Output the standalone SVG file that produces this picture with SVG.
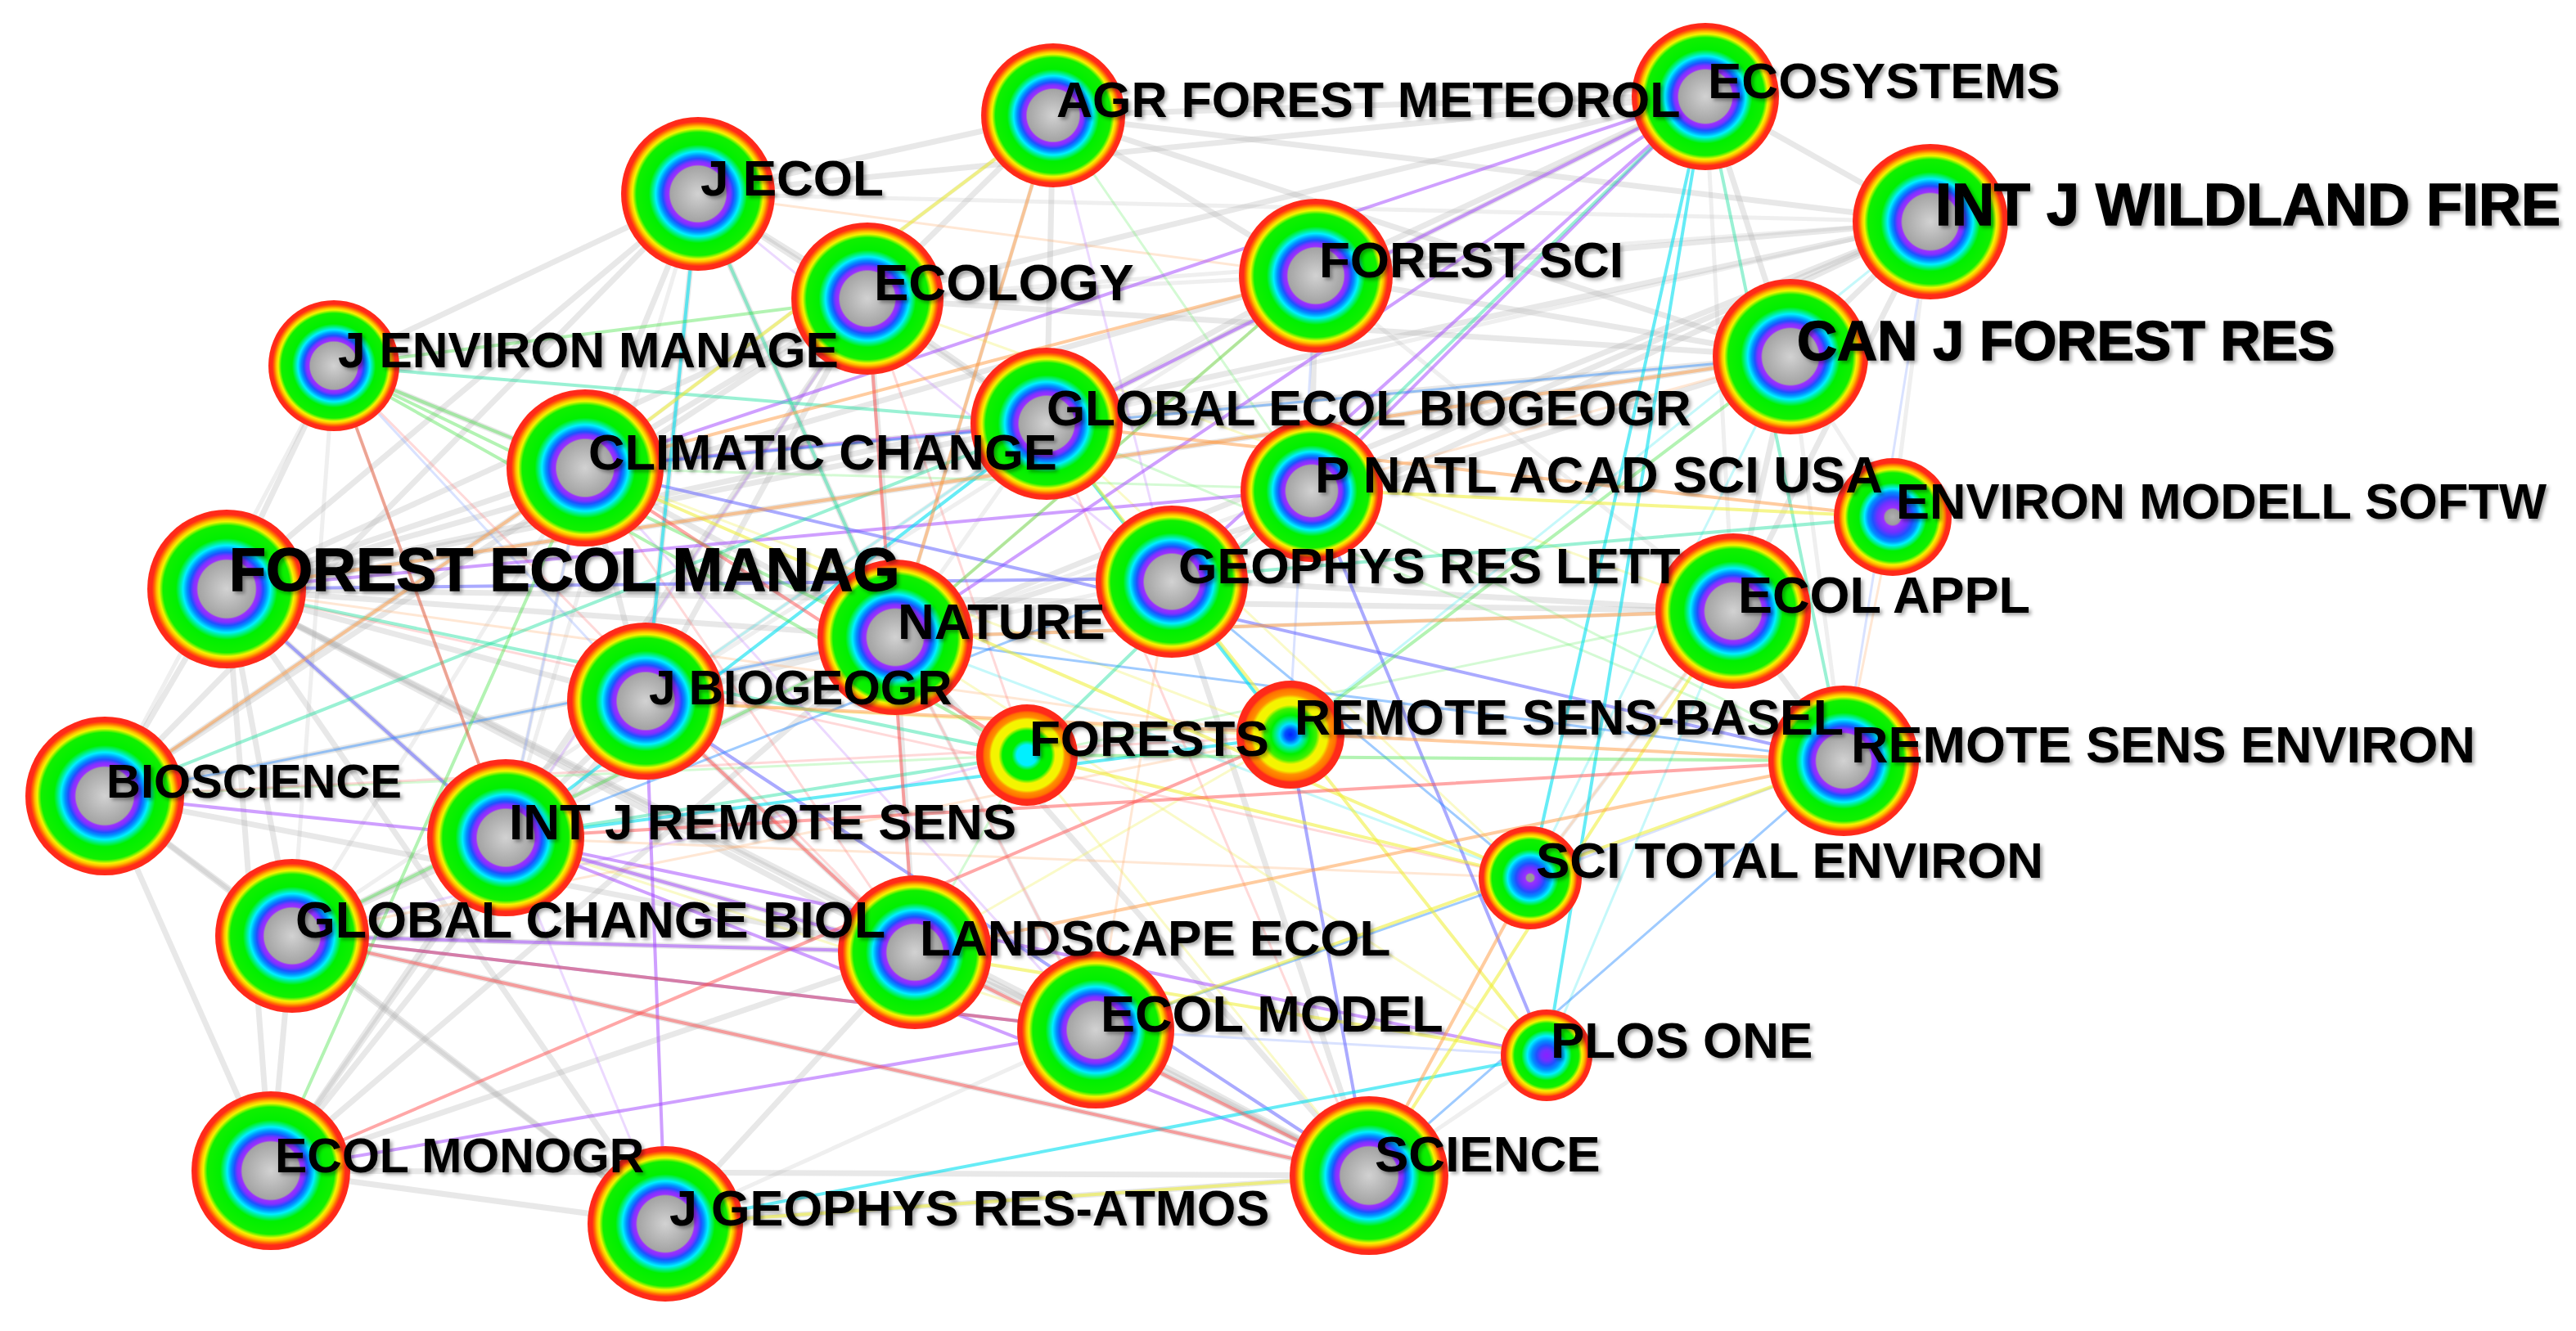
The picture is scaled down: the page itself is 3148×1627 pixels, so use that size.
<svg xmlns="http://www.w3.org/2000/svg" width="3148" height="1627" viewBox="0 0 3148 1627">
<style>
.lbl{font-family:"Liberation Sans",Arial,sans-serif;font-weight:700;font-size:62px;fill:#000;filter:url(#sh)}
.big{font-size:72px;stroke:#000;stroke-width:1.5}
#edges line{fill:none;stroke-linecap:round}
.g{stroke:#a8a8a8;stroke-opacity:.26;stroke-width:7}
.g2{stroke:#b0b0b0;stroke-opacity:.2;stroke-width:5}
.p{stroke:#a040ff;stroke-opacity:.5;stroke-width:4}
.v{stroke:#6464ff;stroke-opacity:.55;stroke-width:4}
.b{stroke:#2a8cff;stroke-opacity:.45;stroke-width:3}
.c{stroke:#00e0f0;stroke-opacity:.6;stroke-width:4}
.t{stroke:#20e0a0;stroke-opacity:.45;stroke-width:4}
.gr{stroke:#40e040;stroke-opacity:.4;stroke-width:4}
.y{stroke:#eeee30;stroke-opacity:.55;stroke-width:4}
.o{stroke:#ff9a40;stroke-opacity:.5;stroke-width:4}
.r{stroke:#ff5050;stroke-opacity:.5;stroke-width:4}
.fy{stroke:#f0f060;stroke-opacity:.35;stroke-width:3}
.fo{stroke:#ffb070;stroke-opacity:.3;stroke-width:3}
.fg{stroke:#70f070;stroke-opacity:.3;stroke-width:3}
.fc{stroke:#40e8f0;stroke-opacity:.3;stroke-width:3}
.fp{stroke:#c080ff;stroke-opacity:.3;stroke-width:3}
.fr{stroke:#ff8080;stroke-opacity:.3;stroke-width:3}
.fb{stroke:#80a0ff;stroke-opacity:.3;stroke-width:3}
</style>
<defs>
<filter id="sh" x="-5%" y="-30%" width="112%" height="170%">
<feDropShadow dx="3" dy="3" stdDeviation="2" flood-color="#000" flood-opacity="0.35"/>
</filter>
<radialGradient id="gFull">
<stop offset="0" stop-color="#d2d2d2"/>
<stop offset="0.2" stop-color="#b8b8b8"/>
<stop offset="0.36" stop-color="#a4a4a4"/>
<stop offset="0.38" stop-color="#9a30ff"/>
<stop offset="0.42" stop-color="#8030ff"/>
<stop offset="0.46" stop-color="#2050ff"/>
<stop offset="0.50" stop-color="#0090ff"/>
<stop offset="0.55" stop-color="#00f0ff"/>
<stop offset="0.60" stop-color="#00f070"/>
<stop offset="0.64" stop-color="#00f000"/>
<stop offset="0.80" stop-color="#10f000"/>
<stop offset="0.85" stop-color="#f4f400"/>
<stop offset="0.88" stop-color="#ffc000"/>
<stop offset="0.91" stop-color="#ff7000"/>
<stop offset="0.94" stop-color="#ff2a1a"/>
<stop offset="1" stop-color="#ff2a1a"/>
</radialGradient>
<radialGradient id="gSm">
<stop offset="0" stop-color="#b0b0b0"/>
<stop offset="0.13" stop-color="#9c9c9c"/>
<stop offset="0.16" stop-color="#9a30ff"/>
<stop offset="0.26" stop-color="#7030ff"/>
<stop offset="0.34" stop-color="#2050ff"/>
<stop offset="0.42" stop-color="#0090ff"/>
<stop offset="0.48" stop-color="#00f0ff"/>
<stop offset="0.54" stop-color="#00f070"/>
<stop offset="0.58" stop-color="#00f000"/>
<stop offset="0.75" stop-color="#10f000"/>
<stop offset="0.81" stop-color="#f4f400"/>
<stop offset="0.85" stop-color="#ffc000"/>
<stop offset="0.89" stop-color="#ff7000"/>
<stop offset="0.92" stop-color="#ff2a1a"/>
<stop offset="1" stop-color="#ff2a1a"/>
</radialGradient>
<radialGradient id="gSci">
<stop offset="0" stop-color="#9a9a9a"/>
<stop offset="0.07" stop-color="#9a9a9a"/>
<stop offset="0.1" stop-color="#9a30ff"/>
<stop offset="0.2" stop-color="#7030ff"/>
<stop offset="0.28" stop-color="#2050ff"/>
<stop offset="0.36" stop-color="#0090ff"/>
<stop offset="0.44" stop-color="#00f0ff"/>
<stop offset="0.5" stop-color="#00f070"/>
<stop offset="0.55" stop-color="#00f000"/>
<stop offset="0.74" stop-color="#10f000"/>
<stop offset="0.8" stop-color="#f4f400"/>
<stop offset="0.84" stop-color="#ffc000"/>
<stop offset="0.88" stop-color="#ff7000"/>
<stop offset="0.91" stop-color="#ff2a1a"/>
<stop offset="1" stop-color="#ff2a1a"/>
</radialGradient>
<radialGradient id="gPlos">
<stop offset="0" stop-color="#8a20ff"/>
<stop offset="0.12" stop-color="#7030ff"/>
<stop offset="0.22" stop-color="#2050ff"/>
<stop offset="0.32" stop-color="#0090ff"/>
<stop offset="0.42" stop-color="#00f0ff"/>
<stop offset="0.5" stop-color="#00f070"/>
<stop offset="0.55" stop-color="#00f000"/>
<stop offset="0.7" stop-color="#10f000"/>
<stop offset="0.77" stop-color="#f4f400"/>
<stop offset="0.82" stop-color="#ffc000"/>
<stop offset="0.87" stop-color="#ff7000"/>
<stop offset="0.9" stop-color="#ff2a1a"/>
<stop offset="1" stop-color="#ff2a1a"/>
</radialGradient>
<radialGradient id="gFor">
<stop offset="0" stop-color="#00f0ff"/>
<stop offset="0.2" stop-color="#00f0ff"/>
<stop offset="0.3" stop-color="#00f000"/>
<stop offset="0.48" stop-color="#00f000"/>
<stop offset="0.56" stop-color="#f4f400"/>
<stop offset="0.7" stop-color="#f4f400"/>
<stop offset="0.75" stop-color="#ff9000"/>
<stop offset="0.84" stop-color="#ff7000"/>
<stop offset="0.88" stop-color="#ff2a1a"/>
<stop offset="1" stop-color="#ff2a1a"/>
</radialGradient>
<radialGradient id="gRsb">
<stop offset="0" stop-color="#0020ff"/>
<stop offset="0.1" stop-color="#0050ff"/>
<stop offset="0.2" stop-color="#00e0ff"/>
<stop offset="0.3" stop-color="#00f060"/>
<stop offset="0.36" stop-color="#00f000"/>
<stop offset="0.48" stop-color="#40f000"/>
<stop offset="0.55" stop-color="#f4f400"/>
<stop offset="0.68" stop-color="#f4f400"/>
<stop offset="0.74" stop-color="#ff9000"/>
<stop offset="0.84" stop-color="#ff7000"/>
<stop offset="0.88" stop-color="#ff2a1a"/>
<stop offset="1" stop-color="#ff2a1a"/>
</radialGradient>
</defs>
<rect width="3148" height="1627" fill="#fff"/>
<g id="edges">
<line class="g2" x1="853" y1="237" x2="618" y2="1024"/>
<line class="g2" x1="1060" y1="365" x2="618" y2="1024"/>
<line class="g2" x1="1287" y1="141" x2="715" y2="572"/>
<line class="g2" x1="1287" y1="141" x2="1094" y2="779"/>
<line class="g2" x1="1608" y1="337" x2="1060" y2="365"/>
<line class="g2" x1="1608" y1="337" x2="789" y2="857"/>
<line class="g2" x1="1279" y1="518" x2="1094" y2="779"/>
<line class="g2" x1="1279" y1="518" x2="789" y2="857"/>
<line class="g2" x1="1430" y1="707" x2="1094" y2="779"/>
<line class="g2" x1="1094" y1="779" x2="618" y2="1024"/>
<line class="g2" x1="789" y1="857" x2="357" y2="1144"/>
<line class="g2" x1="715" y1="572" x2="618" y2="1024"/>
<line class="g2" x1="715" y1="572" x2="357" y2="1144"/>
<line class="g2" x1="408" y1="447" x2="128" y2="973"/>
<line class="g2" x1="408" y1="447" x2="357" y2="1144"/>
<line class="g2" x1="1602" y1="598" x2="1430" y2="707"/>
<line class="g2" x1="1602" y1="598" x2="1094" y2="779"/>
<line class="g2" x1="2118" y1="747" x2="2084" y2="116"/>
<line class="g2" x1="2118" y1="747" x2="1608" y2="337"/>
<line class="g2" x1="2118" y1="747" x2="1094" y2="779"/>
<line class="g2" x1="2253" y1="930" x2="2188" y2="436"/>
<line class="g2" x1="2313" y1="632" x2="2188" y2="436"/>
<line class="g2" x1="2313" y1="632" x2="2359" y2="271"/>
<line class="g2" x1="1870" y1="1073" x2="2118" y2="747"/>
<line class="g2" x1="1339" y1="1259" x2="813" y2="1496"/>
<line class="g2" x1="1339" y1="1259" x2="1094" y2="779"/>
<line class="g2" x1="1673" y1="1437" x2="1890" y2="1290"/>
<line class="g2" x1="2359" y1="271" x2="1060" y2="365"/>
<line class="g2" x1="2359" y1="271" x2="1279" y2="518"/>
<line class="g2" x1="2359" y1="271" x2="853" y2="237"/>
<line class="g" x1="277" y1="720" x2="715" y2="572"/>
<line class="g" x1="277" y1="720" x2="853" y2="237"/>
<line class="g" x1="277" y1="720" x2="1060" y2="365"/>
<line class="g" x1="277" y1="720" x2="1279" y2="518"/>
<line class="g" x1="277" y1="720" x2="1094" y2="779"/>
<line class="g" x1="277" y1="720" x2="789" y2="857"/>
<line class="g" x1="277" y1="720" x2="618" y2="1024"/>
<line class="g" x1="277" y1="720" x2="357" y2="1144"/>
<line class="g" x1="277" y1="720" x2="331" y2="1431"/>
<line class="g" x1="277" y1="720" x2="128" y2="973"/>
<line class="g" x1="277" y1="720" x2="1118" y2="1164"/>
<line class="g" x1="277" y1="720" x2="1339" y2="1259"/>
<line class="g" x1="277" y1="720" x2="1673" y2="1437"/>
<line class="g" x1="277" y1="720" x2="813" y2="1496"/>
<line class="g" x1="277" y1="720" x2="2188" y2="436"/>
<line class="g" x1="277" y1="720" x2="1608" y2="337"/>
<line class="g" x1="277" y1="720" x2="2359" y2="271"/>
<line class="g" x1="277" y1="720" x2="2118" y2="747"/>
<line class="g" x1="128" y1="973" x2="331" y2="1431"/>
<line class="g" x1="128" y1="973" x2="357" y2="1144"/>
<line class="g" x1="128" y1="973" x2="715" y2="572"/>
<line class="g" x1="128" y1="973" x2="853" y2="237"/>
<line class="g" x1="128" y1="973" x2="1060" y2="365"/>
<line class="g" x1="128" y1="973" x2="1094" y2="779"/>
<line class="g" x1="128" y1="973" x2="1118" y2="1164"/>
<line class="g" x1="128" y1="973" x2="813" y2="1496"/>
<line class="g" x1="331" y1="1431" x2="357" y2="1144"/>
<line class="g" x1="331" y1="1431" x2="813" y2="1496"/>
<line class="g" x1="331" y1="1431" x2="789" y2="857"/>
<line class="g" x1="331" y1="1431" x2="618" y2="1024"/>
<line class="g" x1="331" y1="1431" x2="1118" y2="1164"/>
<line class="g" x1="331" y1="1431" x2="1060" y2="365"/>
<line class="g" x1="331" y1="1431" x2="1094" y2="779"/>
<line class="g" x1="331" y1="1431" x2="1673" y2="1437"/>
<line class="g" x1="357" y1="1144" x2="813" y2="1496"/>
<line class="g" x1="357" y1="1144" x2="1118" y2="1164"/>
<line class="g" x1="357" y1="1144" x2="1094" y2="779"/>
<line class="g" x1="357" y1="1144" x2="1673" y2="1437"/>
<line class="g" x1="2188" y1="436" x2="2359" y2="271"/>
<line class="g" x1="2188" y1="436" x2="2084" y2="116"/>
<line class="g" x1="2188" y1="436" x2="1608" y2="337"/>
<line class="g" x1="2188" y1="436" x2="2118" y2="747"/>
<line class="g" x1="2188" y1="436" x2="1287" y2="141"/>
<line class="g" x1="2188" y1="436" x2="1279" y2="518"/>
<line class="g" x1="2188" y1="436" x2="1094" y2="779"/>
<line class="g" x1="2188" y1="436" x2="1060" y2="365"/>
<line class="g" x1="2359" y1="271" x2="2084" y2="116"/>
<line class="g" x1="2359" y1="271" x2="1608" y2="337"/>
<line class="g" x1="2359" y1="271" x2="1287" y2="141"/>
<line class="g" x1="2359" y1="271" x2="2118" y2="747"/>
<line class="g" x1="2359" y1="271" x2="1430" y2="707"/>
<line class="g" x1="2359" y1="271" x2="1602" y2="598"/>
<line class="g" x1="2359" y1="271" x2="1094" y2="779"/>
<line class="g" x1="2084" y1="116" x2="1287" y2="141"/>
<line class="g" x1="2084" y1="116" x2="1608" y2="337"/>
<line class="g" x1="2084" y1="116" x2="853" y2="237"/>
<line class="g" x1="2084" y1="116" x2="1060" y2="365"/>
<line class="g" x1="2084" y1="116" x2="1279" y2="518"/>
<line class="g" x1="1287" y1="141" x2="853" y2="237"/>
<line class="g" x1="1287" y1="141" x2="1060" y2="365"/>
<line class="g" x1="1287" y1="141" x2="1608" y2="337"/>
<line class="g" x1="1287" y1="141" x2="1279" y2="518"/>
<line class="g" x1="853" y1="237" x2="1060" y2="365"/>
<line class="g" x1="853" y1="237" x2="715" y2="572"/>
<line class="g" x1="853" y1="237" x2="789" y2="857"/>
<line class="g" x1="853" y1="237" x2="1279" y2="518"/>
<line class="g" x1="853" y1="237" x2="1094" y2="779"/>
<line class="g" x1="1060" y1="365" x2="1279" y2="518"/>
<line class="g" x1="1060" y1="365" x2="715" y2="572"/>
<line class="g" x1="1060" y1="365" x2="1094" y2="779"/>
<line class="g" x1="1060" y1="365" x2="789" y2="857"/>
<line class="g" x1="789" y1="857" x2="1094" y2="779"/>
<line class="g" x1="789" y1="857" x2="618" y2="1024"/>
<line class="g" x1="789" y1="857" x2="1118" y2="1164"/>
<line class="g" x1="789" y1="857" x2="715" y2="572"/>
<line class="g" x1="1118" y1="1164" x2="1339" y2="1259"/>
<line class="g" x1="1118" y1="1164" x2="1673" y2="1437"/>
<line class="g" x1="1118" y1="1164" x2="1094" y2="779"/>
<line class="g" x1="1118" y1="1164" x2="813" y2="1496"/>
<line class="g" x1="1673" y1="1437" x2="1339" y2="1259"/>
<line class="g" x1="1673" y1="1437" x2="1094" y2="779"/>
<line class="g" x1="1673" y1="1437" x2="1430" y2="707"/>
<line class="g" x1="1673" y1="1437" x2="813" y2="1496"/>
<line class="g" x1="408" y1="447" x2="715" y2="572"/>
<line class="g" x1="408" y1="447" x2="277" y2="720"/>
<line class="g" x1="408" y1="447" x2="853" y2="237"/>
<line class="g" x1="1608" y1="337" x2="1279" y2="518"/>
<line class="g" x1="1608" y1="337" x2="1602" y2="598"/>
<line class="g" x1="2118" y1="747" x2="2253" y2="930"/>
<line class="g" x1="2118" y1="747" x2="1430" y2="707"/>
<line class="g" x1="715" y1="572" x2="1094" y2="779"/>
<line class="g" x1="715" y1="572" x2="1279" y2="518"/>
<line class="g" x1="618" y1="1024" x2="1118" y2="1164"/>
<line class="g" x1="618" y1="1024" x2="357" y2="1144"/>
<line class="fy" x1="1255" y1="923" x2="1673" y2="1437"/>
<line class="fy" x1="1279" y1="518" x2="1870" y2="1073"/>
<line class="fy" x1="1094" y1="779" x2="1890" y2="1290"/>
<line class="fy" x1="789" y1="857" x2="1575" y2="900"/>
<line class="fy" x1="618" y1="1024" x2="1339" y2="1259"/>
<line class="fy" x1="1060" y1="365" x2="2118" y2="747"/>
<line class="fy" x1="715" y1="572" x2="1575" y2="900"/>
<line class="fy" x1="1118" y1="1164" x2="1575" y2="900"/>
<line class="fo" x1="277" y1="720" x2="1575" y2="900"/>
<line class="fo" x1="1430" y1="707" x2="1339" y2="1259"/>
<line class="fo" x1="1608" y1="337" x2="1094" y2="779"/>
<line class="fo" x1="2188" y1="436" x2="1602" y2="598"/>
<line class="fo" x1="2118" y1="747" x2="1870" y2="1073"/>
<line class="fo" x1="357" y1="1144" x2="1575" y2="900"/>
<line class="fo" x1="853" y1="237" x2="1608" y2="337"/>
<line class="fo" x1="2313" y1="632" x2="2253" y2="930"/>
<line class="fo" x1="618" y1="1024" x2="1870" y2="1073"/>
<line class="fg" x1="1279" y1="518" x2="2253" y2="930"/>
<line class="fg" x1="2118" y1="747" x2="1255" y2="923"/>
<line class="fg" x1="408" y1="447" x2="618" y2="1024"/>
<line class="fg" x1="128" y1="973" x2="1255" y2="923"/>
<line class="fg" x1="715" y1="572" x2="1602" y2="598"/>
<line class="fg" x1="1602" y1="598" x2="2253" y2="930"/>
<line class="fg" x1="1118" y1="1164" x2="1255" y2="923"/>
<line class="fg" x1="1287" y1="141" x2="1602" y2="598"/>
<line class="fc" x1="1430" y1="707" x2="1575" y2="900"/>
<line class="fc" x1="2359" y1="271" x2="1575" y2="900"/>
<line class="fc" x1="2118" y1="747" x2="1890" y2="1290"/>
<line class="fc" x1="2188" y1="436" x2="1870" y2="1073"/>
<line class="fc" x1="789" y1="857" x2="1279" y2="518"/>
<line class="fc" x1="1094" y1="779" x2="1870" y2="1073"/>
<line class="fp" x1="618" y1="1024" x2="1060" y2="365"/>
<line class="fp" x1="357" y1="1144" x2="1255" y2="923"/>
<line class="fp" x1="813" y1="1496" x2="618" y2="1024"/>
<line class="fp" x1="715" y1="572" x2="1339" y2="1259"/>
<line class="fp" x1="853" y1="237" x2="1430" y2="707"/>
<line class="fp" x1="1287" y1="141" x2="1430" y2="707"/>
<line class="fr" x1="277" y1="720" x2="1870" y2="1073"/>
<line class="fr" x1="408" y1="447" x2="1118" y2="1164"/>
<line class="fr" x1="128" y1="973" x2="1575" y2="900"/>
<line class="fr" x1="1094" y1="779" x2="1339" y2="1259"/>
<line class="fr" x1="1060" y1="365" x2="1255" y2="923"/>
<line class="fr" x1="715" y1="572" x2="1118" y2="1164"/>
<line class="fr" x1="1279" y1="518" x2="1673" y2="1437"/>
<line class="fb" x1="1608" y1="337" x2="1575" y2="900"/>
<line class="fb" x1="408" y1="447" x2="789" y2="857"/>
<line class="fb" x1="715" y1="572" x2="618" y2="1024"/>
<line class="fb" x1="1339" y1="1259" x2="1890" y2="1290"/>
<line class="fb" x1="2253" y1="930" x2="1870" y2="1073"/>
<line class="fb" x1="2359" y1="271" x2="2253" y2="930"/>
<line class="p" x1="2084" y1="116" x2="1279" y2="518"/>
<line class="p" x1="2084" y1="116" x2="715" y2="572"/>
<line class="p" x1="2084" y1="116" x2="1602" y2="598"/>
<line class="p" x1="2084" y1="116" x2="1430" y2="707"/>
<line class="p" x1="2084" y1="116" x2="1094" y2="779"/>
<line class="p" x1="618" y1="1024" x2="1118" y2="1164"/>
<line class="p" x1="618" y1="1024" x2="1673" y2="1437"/>
<line class="p" x1="128" y1="973" x2="618" y2="1024"/>
<line class="p" x1="357" y1="1144" x2="1118" y2="1164"/>
<line class="p" x1="277" y1="720" x2="1602" y2="598"/>
<line class="p" x1="715" y1="572" x2="1279" y2="518"/>
<line class="p" x1="1890" y1="1290" x2="618" y2="1024"/>
<line class="p" x1="813" y1="1496" x2="789" y2="857"/>
<line class="p" x1="331" y1="1431" x2="1339" y2="1259"/>
<line class="v" x1="1602" y1="598" x2="1890" y2="1290"/>
<line class="v" x1="277" y1="720" x2="618" y2="1024"/>
<line class="v" x1="789" y1="857" x2="1673" y2="1437"/>
<line class="v" x1="1575" y1="900" x2="1673" y2="1437"/>
<line class="v" x1="357" y1="1144" x2="1339" y2="1259"/>
<line class="v" x1="715" y1="572" x2="2253" y2="930"/>
<line class="v" x1="277" y1="720" x2="1430" y2="707"/>
<line class="b" x1="715" y1="572" x2="2188" y2="436"/>
<line class="b" x1="1094" y1="779" x2="2253" y2="930"/>
<line class="b" x1="1339" y1="1259" x2="1870" y2="1073"/>
<line class="b" x1="1430" y1="707" x2="1870" y2="1073"/>
<line class="b" x1="128" y1="973" x2="1094" y2="779"/>
<line class="b" x1="1673" y1="1437" x2="2253" y2="930"/>
<line class="b" x1="618" y1="1024" x2="1430" y2="707"/>
<line class="c" x1="853" y1="237" x2="789" y2="857"/>
<line class="c" x1="2084" y1="116" x2="1870" y2="1073"/>
<line class="c" x1="2084" y1="116" x2="1890" y2="1290"/>
<line class="c" x1="813" y1="1496" x2="1890" y2="1290"/>
<line class="c" x1="1279" y1="518" x2="1575" y2="900"/>
<line class="c" x1="618" y1="1024" x2="1575" y2="900"/>
<line class="c" x1="1279" y1="518" x2="618" y2="1024"/>
<line class="t" x1="408" y1="447" x2="1279" y2="518"/>
<line class="t" x1="853" y1="237" x2="1094" y2="779"/>
<line class="t" x1="618" y1="1024" x2="1255" y2="923"/>
<line class="t" x1="2313" y1="632" x2="1430" y2="707"/>
<line class="t" x1="1255" y1="923" x2="2084" y2="116"/>
<line class="t" x1="128" y1="973" x2="1279" y2="518"/>
<line class="t" x1="277" y1="720" x2="1255" y2="923"/>
<line class="t" x1="2084" y1="116" x2="2253" y2="930"/>
<line class="gr" x1="408" y1="447" x2="715" y2="572"/>
<line class="gr" x1="408" y1="447" x2="1094" y2="779"/>
<line class="gr" x1="408" y1="447" x2="1255" y2="923"/>
<line class="gr" x1="331" y1="1431" x2="715" y2="572"/>
<line class="gr" x1="357" y1="1144" x2="1094" y2="779"/>
<line class="gr" x1="2188" y1="436" x2="1575" y2="900"/>
<line class="gr" x1="1255" y1="923" x2="2253" y2="930"/>
<line class="gr" x1="408" y1="447" x2="1060" y2="365"/>
<line class="gr" x1="1094" y1="779" x2="1608" y2="337"/>
<line class="y" x1="813" y1="1496" x2="1673" y2="1437"/>
<line class="y" x1="1118" y1="1164" x2="1890" y2="1290"/>
<line class="y" x1="715" y1="572" x2="1870" y2="1073"/>
<line class="y" x1="1255" y1="923" x2="1870" y2="1073"/>
<line class="y" x1="1673" y1="1437" x2="2118" y2="747"/>
<line class="y" x1="1287" y1="141" x2="715" y2="572"/>
<line class="y" x1="1339" y1="1259" x2="2253" y2="930"/>
<line class="y" x1="1602" y1="598" x2="2313" y2="632"/>
<line class="y" x1="1279" y1="518" x2="1890" y2="1290"/>
<line class="o" x1="128" y1="973" x2="715" y2="572"/>
<line class="o" x1="277" y1="720" x2="2188" y2="436"/>
<line class="o" x1="1279" y1="518" x2="2313" y2="632"/>
<line class="o" x1="789" y1="857" x2="2253" y2="930"/>
<line class="o" x1="1094" y1="779" x2="2118" y2="747"/>
<line class="o" x1="1118" y1="1164" x2="2253" y2="930"/>
<line class="o" x1="1608" y1="337" x2="715" y2="572"/>
<line class="o" x1="1673" y1="1437" x2="1870" y2="1073"/>
<line class="o" x1="1287" y1="141" x2="1094" y2="779"/>
<line class="r" x1="357" y1="1144" x2="1339" y2="1259"/>
<line class="r" x1="357" y1="1144" x2="1673" y2="1437"/>
<line class="r" x1="789" y1="857" x2="1118" y2="1164"/>
<line class="r" x1="1118" y1="1164" x2="1673" y2="1437"/>
<line class="r" x1="1060" y1="365" x2="1118" y2="1164"/>
<line class="r" x1="715" y1="572" x2="1255" y2="923"/>
<line class="r" x1="331" y1="1431" x2="1575" y2="900"/>
<line class="r" x1="618" y1="1024" x2="2253" y2="930"/>
<line class="r" x1="408" y1="447" x2="618" y2="1024"/>
</g>
<g id="n-ecosystems"><circle cx="2084" cy="118" r="90" fill="url(#gFull)"/><text class="lbl" x="2087" y="120">ECOSYSTEMS</text></g>
<g id="n-agr-forest-meteorol"><circle cx="1287" cy="141" r="88" fill="url(#gFull)"/><text class="lbl" x="1291" y="143" style="font-size:61px">AGR FOREST METEOROL</text></g>
<g id="n-j-ecol"><circle cx="853" cy="237" r="94" fill="url(#gFull)"/><text class="lbl" x="856" y="239">J ECOL</text></g>
<g id="n-int-j-wildland-fire"><circle cx="2359" cy="271" r="95" fill="url(#gFull)"/><text class="lbl big" x="2365" y="275">INT J WILDLAND FIRE</text></g>
<g id="n-forest-sci"><circle cx="1608" cy="337" r="94" fill="url(#gFull)"/><text class="lbl" x="1612" y="339">FOREST SCI</text></g>
<g id="n-can-j-forest-res"><circle cx="2188" cy="436" r="95" fill="url(#gFull)"/><text class="lbl big" x="2196" y="440" style="font-size:68px">CAN J FOREST RES</text></g>
<g id="n-ecology"><circle cx="1060" cy="365" r="93" fill="url(#gFull)"/><text class="lbl" x="1068" y="367" style="font-size:63.5px">ECOLOGY</text></g>
<g id="n-j-environ-manage"><circle cx="408" cy="447" r="80" fill="url(#gFull)"/><text class="lbl" x="413" y="449" style="font-size:60.5px">J ENVIRON MANAGE</text></g>
<g id="n-environ-modell-softw"><circle cx="2313" cy="632" r="72" fill="url(#gSm)"/><text class="lbl" x="2317" y="634" style="font-size:61.5px">ENVIRON MODELL SOFTW</text></g>
<g id="n-p-natl-acad-sci-usa"><circle cx="1603" cy="600" r="87" fill="url(#gFull)"/><text class="lbl" x="1607" y="602" style="font-size:63.3px">P NATL ACAD SCI USA</text></g>
<g id="n-global-ecol-biogeogr"><circle cx="1279" cy="518" r="93" fill="url(#gFull)"/><text class="lbl" x="1279" y="520" style="font-size:60.5px">GLOBAL ECOL BIOGEOGR</text></g>
<g id="n-climatic-change"><circle cx="715" cy="572" r="96" fill="url(#gFull)"/><text class="lbl" x="719" y="574" style="font-size:61.5px">CLIMATIC CHANGE</text></g>
<g id="n-ecol-appl"><circle cx="2118" cy="747" r="95" fill="url(#gFull)"/><text class="lbl" x="2124" y="749" style="font-size:63px">ECOL APPL</text></g>
<g id="n-geophys-res-lett"><circle cx="1432" cy="711" r="93" fill="url(#gFull)"/><text class="lbl" x="1440" y="713" style="font-size:61px">GEOPHYS RES LETT</text></g>
<g id="n-nature"><circle cx="1094" cy="779" r="95" fill="url(#gFull)"/><text class="lbl" x="1097" y="781">NATURE</text></g>
<g id="n-forest-ecol-manag"><circle cx="277" cy="720" r="97" fill="url(#gFull)"/><text class="lbl big" x="280" y="722" style="font-size:73.5px">FOREST ECOL MANAG</text></g>
<g id="n-j-biogeogr"><circle cx="789" cy="857" r="96" fill="url(#gFull)"/><text class="lbl" x="793" y="861" style="font-size:58.5px">J BIOGEOGR</text></g>
<g id="n-remote-sens-environ"><circle cx="2253" cy="930" r="92" fill="url(#gFull)"/><text class="lbl" x="2262" y="932" style="font-size:63px">REMOTE SENS ENVIRON</text></g>
<g id="n-remote-sens-basel"><circle cx="1577" cy="898" r="66" fill="url(#gRsb)"/><text class="lbl" x="1582" y="898" style="font-size:61px">REMOTE SENS-BASEL</text></g>
<g id="n-forests"><circle cx="1255" cy="923" r="62" fill="url(#gFor)"/><text class="lbl" x="1258" y="924">FORESTS</text></g>
<g id="n-bioscience"><circle cx="128" cy="973" r="97" fill="url(#gFull)"/><text class="lbl" x="130" y="975" style="font-size:58px">BIOSCIENCE</text></g>
<g id="n-int-j-remote-sens"><circle cx="618" cy="1024" r="96" fill="url(#gFull)"/><text class="lbl" x="622" y="1026">INT J REMOTE SENS</text></g>
<g id="n-sci-total-environ"><circle cx="1870" cy="1073" r="63" fill="url(#gSci)"/><text class="lbl" x="1877" y="1073">SCI TOTAL ENVIRON</text></g>
<g id="n-ecol-model"><circle cx="1339" cy="1259" r="96" fill="url(#gFull)"/><text class="lbl" x="1345" y="1261" style="font-size:63px">ECOL MODEL</text></g>
<g id="n-landscape-ecol"><circle cx="1118" cy="1164" r="94" fill="url(#gFull)"/><text class="lbl" x="1124" y="1168">LANDSCAPE ECOL</text></g>
<g id="n-global-change-biol"><circle cx="357" cy="1144" r="94" fill="url(#gFull)"/><text class="lbl" x="361" y="1146" style="font-size:62.8px">GLOBAL CHANGE BIOL</text></g>
<g id="n-plos-one"><circle cx="1890" cy="1290" r="56" fill="url(#gPlos)"/><text class="lbl" x="1895" y="1293">PLOS ONE</text></g>
<g id="n-science"><circle cx="1673" cy="1437" r="97" fill="url(#gFull)"/><text class="lbl" x="1680" y="1432">SCIENCE</text></g>
<g id="n-j-geophys-res-atmos"><circle cx="813" cy="1496" r="95" fill="url(#gFull)"/><text class="lbl" x="818" y="1498" style="font-size:61.2px">J GEOPHYS RES-ATMOS</text></g>
<g id="n-ecol-monogr"><circle cx="331" cy="1431" r="97" fill="url(#gFull)"/><text class="lbl" x="336" y="1433" style="font-size:59px">ECOL MONOGR</text></g>
</svg>
